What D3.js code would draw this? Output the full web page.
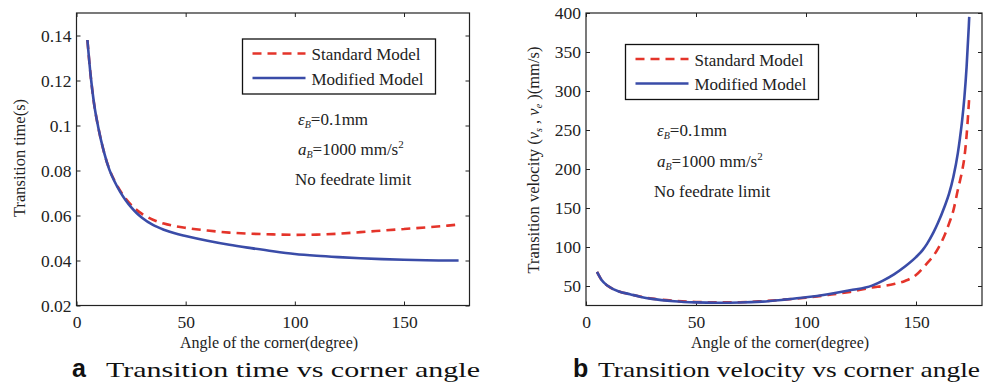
<!DOCTYPE html>
<html>
<head>
<meta charset="utf-8">
<script src="https://cdn.jsdelivr.net/npm/d3@7"></script>
<style>
  body { margin: 0; background: #fff; }
  svg { display: block; font-family: "Liberation Serif", "Times New Roman", serif; }
</style>
</head>
<body>
<svg id="chart" width="987" height="390"></svg>
<script>
// ---- data ----
var timeAngles   = [5, 6.5, 8, 10, 12.5, 15, 17.5, 20, 22.5, 25, 27.5, 30, 35, 40, 45, 50, 60, 70, 80, 90, 100, 110, 120, 130, 140, 150, 160, 170, 175];
var timeStandard = [0.138, 0.122, 0.110, 0.099, 0.0885, 0.0807, 0.0753, 0.0710, 0.0675, 0.0647, 0.0625, 0.0607, 0.0581, 0.0564, 0.0553, 0.0545, 0.0533, 0.0524, 0.0519, 0.0516, 0.0514, 0.0515, 0.0519, 0.0526, 0.0533, 0.0540, 0.0547, 0.0555, 0.0560];
var timeModified = [0.138, 0.122, 0.110, 0.099, 0.0885, 0.0805, 0.0750, 0.0705, 0.0668, 0.0637, 0.0611, 0.0590, 0.0558, 0.0537, 0.0521, 0.0509, 0.0488, 0.0470, 0.0455, 0.0441, 0.0429, 0.0421, 0.0415, 0.0410, 0.0406, 0.0403, 0.0401, 0.0400, 0.0400];

var velAngles   = [5, 7, 10, 15, 20, 25, 30, 40, 50, 60, 70, 80, 90, 100, 110, 120, 130, 135, 140, 145, 150, 153, 155, 158, 160, 163, 165, 167, 169, 170, 171, 172, 173, 174, 174.2];
var velStandard = [68, 58, 50, 43, 39.5, 36.3, 33.8, 31, 29.5, 29, 29.2, 30.5, 32.5, 35, 38.5, 42.5, 48, 50, 52.5, 56.5, 64, 72.5, 79, 89, 98, 115, 130, 147, 173, 185, 198, 215, 243, 283, 292];
var velModified = [68, 58, 50, 43, 39.5, 36, 33.5, 30.5, 29, 28.5, 28.8, 30, 32.5, 35.5, 39.5, 44.5, 50.5, 57, 65, 75, 87, 96, 104, 119, 131, 152, 168, 190, 220, 240, 263, 292, 331, 383, 395];

var xTicks     = [0, 50, 100, 150];
var timeTicks  = [0.02, 0.04, 0.06, 0.08, 0.1, 0.12, 0.14];
var velTicks   = [50, 100, 150, 200, 250, 300, 350, 400];
var seriesNames = ["Standard Model", "Modified Model"];

var red = "#e4342a", blue = "#3a4ca8";
var svg = d3.select("#chart");

function drawPanel(cfg) {
  var x = d3.scaleLinear().domain([0, 180]).range([cfg.left, cfg.right]);
  var y = d3.scaleLinear().domain(cfg.yDomain).range([cfg.bottom, cfg.top]);
  var g = svg.append("g");

  // box
  g.append("rect")
    .attr("x", cfg.left).attr("y", cfg.top)
    .attr("width", cfg.right - cfg.left).attr("height", cfg.bottom - cfg.top)
    .attr("fill", "none").attr("stroke", "#222").attr("stroke-width", 1.2);

  var bottomAx = g.append("g")
    .attr("transform", "translate(0," + cfg.bottom + ")")
    .call(d3.axisBottom(x).tickValues(xTicks).tickSizeInner(-4).tickSizeOuter(0).tickPadding(10));
  var leftAx = g.append("g")
    .attr("transform", "translate(" + cfg.left + ",0)")
    .call(d3.axisLeft(y).tickValues(cfg.yTicks).tickFormat(cfg.yFormat).tickSizeInner(-4).tickSizeOuter(0).tickPadding(5));
  var topAx = g.append("g")
    .attr("transform", "translate(0," + cfg.top + ")")
    .call(d3.axisTop(x).tickValues(xTicks).tickFormat("").tickSizeInner(-4).tickSizeOuter(0));
  var rightAx = g.append("g")
    .attr("transform", "translate(" + cfg.right + ",0)")
    .call(d3.axisRight(y).tickValues(cfg.yTicks).tickFormat("").tickSizeInner(-4).tickSizeOuter(0));

  [bottomAx, leftAx, topAx, rightAx].forEach(function(a) {
    a.attr("font-family", "Liberation Serif").attr("font-size", 17.5);
    a.select(".domain").remove();
    a.selectAll(".tick line").attr("stroke", "#222");
    a.selectAll(".tick text").attr("fill", "#222");
  });
  bottomAx.selectAll(".tick text").attr("dy", "0.71em");

  // curves, standard first so the modified line sits on top
  var line = d3.line()
    .x(function(d) { return x(d[0]); })
    .y(function(d) { return y(d[1]); })
    .curve(d3.curveMonotoneX);

  g.append("path")
    .datum(cfg.angles.map(function(a, i) { return [a, cfg.standard[i]]; }))
    .attr("d", line).attr("fill", "none")
    .attr("stroke", red).attr("stroke-width", 2.6).attr("stroke-dasharray", "9,6");
  g.append("path")
    .datum(cfg.angles.map(function(a, i) { return [a, cfg.modified[i]]; }))
    .attr("d", line).attr("fill", "none")
    .attr("stroke", blue).attr("stroke-width", 2.6);

  // legend
  var L = cfg.legend;
  g.append("rect")
    .attr("x", L.x).attr("y", L.y).attr("width", L.w).attr("height", L.h)
    .attr("fill", "#fff").attr("stroke", "#111").attr("stroke-width", 1.3);
  seriesNames.forEach(function(name, i) {
    var ly = L.y + 14.5 + i * 24.5;
    g.append("line")
      .attr("x1", L.x + 10).attr("x2", L.x + 63).attr("y1", ly).attr("y2", ly)
      .attr("stroke", i === 0 ? red : blue).attr("stroke-width", 2.6)
      .attr("stroke-dasharray", i === 0 ? "9,6" : null);
    g.append("text")
      .attr("x", L.x + 69).attr("y", ly + 6.5)
      .style("font-size", "17px").attr("fill", "#222")
      .text(name);
  });

  // notes
  var N = cfg.notes;
  var t1 = g.append("text").attr("x", N.x).attr("y", N.y0).style("font-size", "17px").attr("fill", "#222");
  t1.append("tspan").style("font-style", "italic").text("ε");
  t1.append("tspan").style("font-style", "italic").style("font-size", "10px").attr("dy", 3).text("B");
  t1.append("tspan").attr("dy", -3).text("=0.1mm");

  var t2 = g.append("text").attr("x", N.x).attr("y", N.y0 + N.step).style("font-size", "17px").attr("fill", "#222");
  t2.append("tspan").style("font-style", "italic").text("a");
  t2.append("tspan").style("font-style", "italic").style("font-size", "10px").attr("dy", 3).text("B");
  t2.append("tspan").attr("dy", -3).text("=1000 mm/s");
  t2.append("tspan").style("font-size", "11px").attr("dy", -7).text("2");

  g.append("text").attr("x", N.x - 3).attr("y", N.y0 + 2 * N.step)
    .style("font-size", "17px").attr("fill", "#222").text("No feedrate limit");

  // axis titles
  g.append("text")
    .attr("x", (cfg.left + cfg.right) / 2 - 4).attr("y", 348)
    .attr("text-anchor", "middle").style("font-size", "16px").attr("fill", "#222")
    .text("Angle of the corner(degree)");

  cfg.yTitle(g.append("text")
    .attr("transform", "translate(" + cfg.yTitleX + "," + cfg.yTitleY + ") rotate(-90)")
    .attr("text-anchor", "middle").style("font-size", "16.5px").attr("fill", "#222"));

  // caption
  svg.append("text")
    .attr("x", cfg.capX).attr("y", 377)
    .style("font-family", "Liberation Sans").style("font-weight", "bold").style("font-size", "25px")
    .attr("fill", "#111").text(cfg.capLetter);
  svg.append("text")
    .attr("x", cfg.capTextX).attr("y", 377)
    .attr("textLength", cfg.capTextW).attr("lengthAdjust", "spacingAndGlyphs")
    .style("font-size", "22px").attr("fill", "#111").text(cfg.caption);
}

drawPanel({
  left: 76.5, right: 469.5, top: 13, bottom: 305.5,
  yDomain: [0.02, 0.15], yTicks: timeTicks, yFormat: d3.format("~g"),
  angles: timeAngles, standard: timeStandard, modified: timeModified,
  legend: { x: 242.5, y: 39, w: 193, h: 55 },
  notes: { x: 298, y0: 125, step: 30 },
  yTitleX: 25, yTitleY: 158,
  yTitle: function(t) { t.text("Transition time(s)"); },
  capX: 72, capLetter: "a", capTextX: 106, capTextW: 374, caption: "Transition time vs corner angle"
});

drawPanel({
  left: 586, right: 982, top: 13, bottom: 305.5,
  yDomain: [25, 400], yTicks: velTicks, yFormat: d3.format("d"),
  angles: velAngles, standard: velStandard, modified: velModified,
  legend: { x: 625.5, y: 44.5, w: 193, h: 55 },
  notes: { x: 657, y0: 136, step: 30.5 },
  yTitleX: 539, yTitleY: 160,
  yTitle: function(t) {
    t.append("tspan").text("Transition velocity (");
    t.append("tspan").style("font-style", "italic").text("v");
    t.append("tspan").style("font-style", "italic").style("font-size", "10px").attr("dy", 3).text("s");
    t.append("tspan").attr("dy", -3).text(" , ");
    t.append("tspan").style("font-style", "italic").text("v");
    t.append("tspan").style("font-style", "italic").style("font-size", "10px").attr("dy", 3).text("e");
    t.append("tspan").attr("dy", -3).text(" )(mm/s)");
  },
  capX: 573, capLetter: "b", capTextX: 598, capTextW: 382, caption: "Transition velocity vs corner angle"
});
</script>
</body>
</html>
